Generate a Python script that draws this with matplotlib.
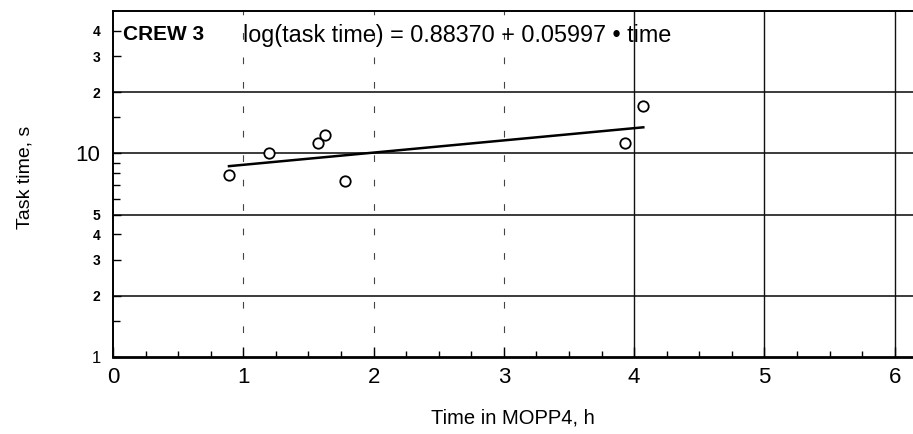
import numpy as np
import matplotlib
matplotlib.use('Agg')
import matplotlib.pyplot as plt

# Observed task times, crew 3
time_h = [0.89, 1.20, 1.57, 1.63, 1.78, 3.93, 4.07]
task_s = [7.8, 10.0, 11.3, 12.3, 7.3, 11.2, 17.1]

# log10(task time) = a + b * time
fit_a = 0.88370
fit_b = 0.05997
fit_span = [0.89, 4.07]

y_ticks = [1, 2, 3, 4, 5, 10, 20, 30, 40]
y_labels = ['1', '2', '3', '4', '5', '10', '2', '3', '4']
x_ticks = [0, 1, 2, 3, 4, 5, 6]

plt.rcParams['font.family'] = ['Liberation Sans', 'DejaVu Sans']

fig = plt.figure(figsize=(9.13, 4.34), dpi=100)
ax = fig.add_axes([0.1238, 0.1774, 0.8762, 0.7973])

ax.set_yscale('log')
ax.set_xlim(0, 6.14)
ax.set_ylim(1, 50)

# grid
for yv in [2, 5, 10, 20]:
    ax.axhline(yv, color='#1a1a1a', lw=1.2, zorder=1)
for xv in [1, 2, 3]:
    ax.axvline(xv, color='#444444', lw=0.8, ls=(0, (6, 16)), zorder=1)
for xv in [4, 5, 6]:
    ax.axvline(xv, color='#111111', lw=1.0, zorder=1)

# fitted line
tt = np.array(fit_span)
ax.plot(tt, 10 ** (fit_a + fit_b * tt), color='black', lw=1.8, zorder=3)

# data
ax.plot(time_h, task_s, 'o', mfc='white', mec='black', mew=1.3, ms=7.5,
        ls='none', zorder=4)

# ticks
ax.set_yticks(y_ticks)
ax.set_yticklabels(y_labels)
ax.yaxis.set_minor_locator(matplotlib.ticker.LogLocator(subs=[1.5, 6, 7, 8, 9]))
ax.yaxis.set_minor_formatter(matplotlib.ticker.NullFormatter())
for i, lab in enumerate(ax.get_yticklabels()):
    if y_labels[i] == '10':
        lab.set_fontsize(16)
    elif i == 0:
        lab.set_fontsize(12)
    else:
        lab.set_fontsize(10)
        lab.set_fontweight('bold')

ax.set_xticks(x_ticks)
ax.set_xticklabels([str(v) for v in x_ticks], fontsize=16)
ax.xaxis.set_minor_locator(matplotlib.ticker.MultipleLocator(0.25))

ax.tick_params(axis='both', which='both', direction='in', color='black')
ax.tick_params(axis='y', which='major', length=6, width=1, pad=9)
ax.tick_params(axis='y', which='minor', length=5, width=1)
ax.tick_params(axis='x', which='major', length=7, width=1, pad=7)
ax.tick_params(axis='x', which='minor', length=4, width=1)

ax.spines['right'].set_visible(False)
ax.spines['bottom'].set_linewidth(2)
ax.spines['left'].set_linewidth(1.4)
ax.spines['top'].set_linewidth(1.4)

ax.text(0.08, 39, 'CREW 3', fontsize=15, fontweight='bold',
        va='center_baseline')
ax.text(1.0, 39, 'log(task time) = 0.88370 + 0.05997 \u2022 time',
        fontsize=16.8, va='center_baseline')

ax.set_xlabel('Time in MOPP4, h', fontsize=14.5, labelpad=15)
ax.set_ylabel('Task time, s', fontsize=14, labelpad=28)
ax.yaxis.set_label_coords(-0.099, 0.52)

fig.savefig('out.png', dpi=100)
